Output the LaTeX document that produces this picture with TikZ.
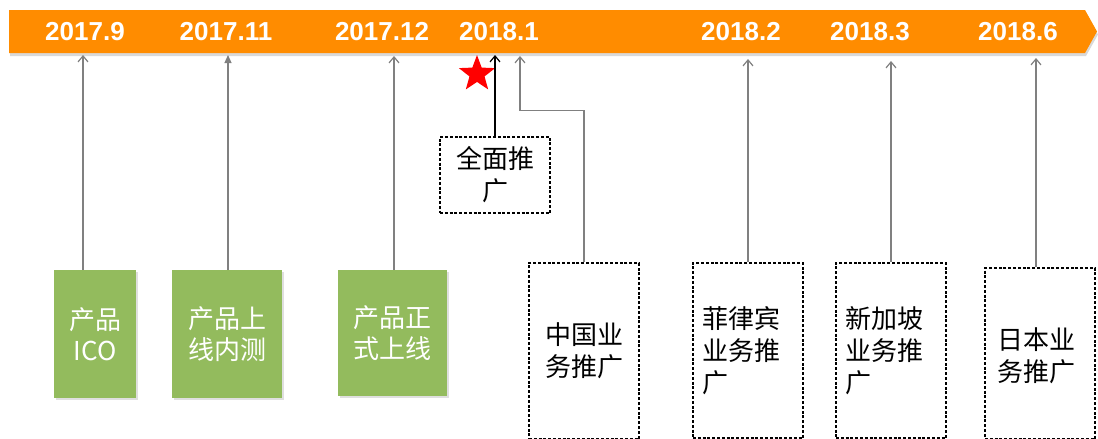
\documentclass[tikz,border=0pt]{standalone}
\usepackage{fontspec}
\setmainfont{Liberation Sans}
\newfontfamily\cjk{Noto Sans CJK SC}
\usetikzlibrary{arrows.meta,shapes.geometric,shadows}
\definecolor{barorange}{HTML}{FF8C00}
\definecolor{boxgreen}{HTML}{93BB5D}
\definecolor{lgrey}{HTML}{808080}
\begin{document}
\begin{tikzpicture}[x=1pt,y=-1pt,
  datelabel/.style={text=white,font=\fontsize{26}{28}\selectfont\bfseries,inner sep=0pt},
  gbox/.style={fill=boxgreen,draw=none,text=white,align=center,inner sep=0pt,
    font=\cjk\fontsize{26}{31}\selectfont,
    drop shadow={opacity=0.25,shadow xshift=2pt,shadow yshift=-2pt}},
  dbox/.style={draw=black,dash pattern=on 3pt off 1.8pt,line width=1.3pt,inner sep=0pt,
    font=\cjk\fontsize{26}{32}\selectfont},
  dtext/.style={font=\cjk\fontsize{26}{32}\selectfont,align=left,anchor=west,inner sep=0pt},
  garrow/.style={draw=lgrey,line width=1.2pt,-{Straight Barb[length=6pt,width=10pt]}},
  gtri/.style={draw=lgrey,line width=1.2pt,-{Triangle[length=8pt,width=7pt]}},
  barrow/.style={draw=black,line width=1.2pt,-{Straight Barb[length=6pt,width=10pt]}},
  redstar/.style={star,star points=5,star point ratio=2.4,fill=red,draw=none,minimum size=38pt,inner sep=0pt}
]
\useasboundingbox (0,0) rectangle (1098,439);
% timeline bar
\fill[barorange,drop shadow={opacity=0.3,shadow xshift=1pt,shadow yshift=-3pt}]
  (9,10) -- (1085,10) -- (1097,31.5) -- (1085,53) -- (9,53) -- cycle;
\node[datelabel] (l1) at (85,32) {2017.9};
\node[datelabel] (l2) at (226,32) {2017.11};
\node[datelabel] (l3) at (382,32) {2017.12};
\node[datelabel] (l4) at (499,32) {2018.1};
\node[datelabel] (l5) at (741,32) {2018.2};
\node[datelabel] (l6) at (870,32) {2018.3};
\node[datelabel] (l7) at (1018,32) {2018.6};
% arrow tips under the bar
\coordinate (t1) at (83,55);
\coordinate (t2) at (228,55);
\coordinate (t3) at (394,56);
\coordinate (t4) at (495,55);
\coordinate (t5) at (520,56);
\coordinate (t6) at (748,59);
\coordinate (t7) at (891,61);
\coordinate (t8) at (1036,58);
% green boxes
\node[gbox,minimum width=82pt,minimum height=128pt] (g1) at (95,334) {产品\\ICO};
\node[gbox,minimum width=110pt,minimum height=128pt] (g2) at (227,334) {产品上\\线内测};
\node[gbox,minimum width=109pt,minimum height=126pt] (g3) at (392.5,333) {产品正\\式上线};
% dashed boxes
\node[dbox,align=center,minimum width=110pt,minimum height=76pt] (d0) at (495,175) {全面推\\广};
\node[dbox,align=center,minimum width=110pt,minimum height=176pt] (d1) at (584,351) {中国业\\务推广};
\node[dbox,minimum width=110pt,minimum height=175pt] (d2) at (748,350.5) {};
\node[dbox,minimum width=110pt,minimum height=175pt] (d3) at (891,350.5) {};
\node[dbox,minimum width=110pt,minimum height=171pt] (d4) at (1040,353.5) {};
\node[dtext] (x2) at (702,351) {菲律宾\\业务推\\广};
\node[dtext] (x3) at (845,351) {新加坡\\业务推\\广};
\node[dtext] (x4) at (997,356) {日本业\\务推广};
% star
\node[redstar] (s) at (477,74) {};
% connectors
\draw[garrow] (t1 |- g1.north) -- (t1);
\draw[gtri] (t2 |- g2.north) -- (t2);
\draw[garrow] (t3 |- g3.north) -- (t3);
\draw[barrow] (d0.north) -- (t4);
\draw[garrow] (d1.north) -- ++(0,-152) -| (t5);
\draw[garrow] (d2.north) -- (t6);
\draw[garrow] (d3.north) -- (t7);
\draw[garrow] (t8 |- d4.north) -- (t8);
\end{tikzpicture}
\end{document}
